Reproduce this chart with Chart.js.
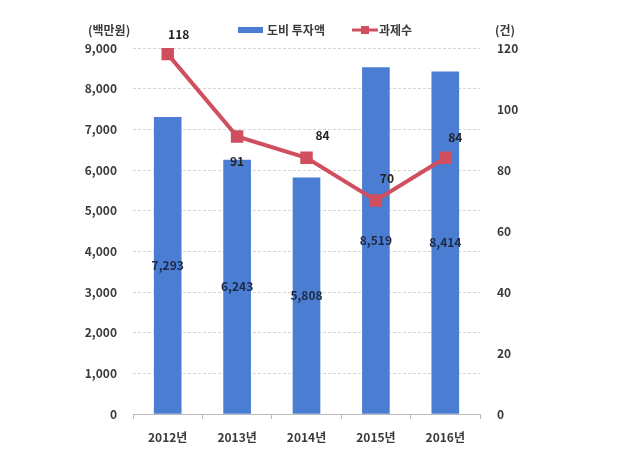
<!DOCTYPE html>
<html>
<head>
<meta charset="utf-8">
<script src="https://cdn.jsdelivr.net/npm/chart.js@4/dist/chart.umd.min.js"></script>
<style>
  html, body { margin: 0; padding: 0; background: #fff; }
  #wrap { width: 638px; height: 457px; }
</style>
</head>
<body>
<div id="wrap"><canvas id="chart" width="638" height="457"></canvas></div>
<script>
  // Data
  const years = ["2012년", "2013년", "2014년", "2015년", "2016년"];
  const investment = [7293, 6243, 5808, 8519, 8414]; // 도비 투자액 (백만원)
  const projects = [118, 91, 84, 70, 84];            // 과제수 (건)
  const leftTicks = [0, 1000, 2000, 3000, 4000, 5000, 6000, 7000, 8000, 9000];
  const rightTicks = [0, 20, 40, 60, 80, 100, 120];

  const FONT = "'Noto Sans CJK KR', 'Noto Sans', sans-serif";
  const BAR_COLOR = "#4b7dd2";
  const LINE_COLOR = "#d04f5f";
  const TEXT_COLOR = "#3a3a3a";

  // Where the count labels sit relative to each marker
  const lineLabelOffsets = [[11, -20], [0, 25], [16, -22], [11, -22], [10, -20]];

  const labelPlugin = {
    id: "labels",
    afterDatasetsDraw(chart) {
      const ctx = chart.ctx;
      ctx.save();
      ctx.textAlign = "center";
      ctx.textBaseline = "middle";
      ctx.font = "bold 12px " + FONT;

      // bar values, centered in each bar
      ctx.fillStyle = "#1e2a44";
      chart.getDatasetMeta(0).data.forEach((bar, i) => {
        ctx.fillText(investment[i].toLocaleString("en-US"), bar.x, (bar.y + bar.base) / 2);
      });

      // line values next to markers
      ctx.fillStyle = "#222";
      chart.getDatasetMeta(1).data.forEach((pt, i) => {
        const off = lineLabelOffsets[i];
        ctx.fillText(String(projects[i]), pt.x + off[0], pt.y + off[1]);
      });
      ctx.restore();
    },
    afterDraw(chart) {
      const ctx = chart.ctx;
      ctx.save();
      ctx.textBaseline = "middle";
      ctx.font = "bold 12px " + FONT;
      ctx.fillStyle = TEXT_COLOR;

      // axis unit titles
      ctx.textAlign = "left";
      ctx.fillText("(백만원)", 88, 30);
      ctx.fillText("(건)", 495, 30);

      // legend
      ctx.fillStyle = BAR_COLOR;
      ctx.fillRect(238, 27, 25, 6);
      ctx.fillStyle = TEXT_COLOR;
      ctx.fillText("도비 투자액", 267, 30);

      ctx.strokeStyle = LINE_COLOR;
      ctx.lineWidth = 3;
      ctx.beginPath();
      ctx.moveTo(352, 30);
      ctx.lineTo(378, 30);
      ctx.stroke();
      ctx.fillStyle = LINE_COLOR;
      ctx.fillRect(361, 26, 8, 8);
      ctx.fillStyle = TEXT_COLOR;
      ctx.fillText("과제수", 379, 30);
      ctx.restore();
    }
  };

  const ctx = document.getElementById("chart").getContext("2d");
  new Chart(ctx, {
    data: {
      labels: years,
      datasets: [
        {
          type: "bar",
          label: "도비 투자액",
          data: investment,
          backgroundColor: BAR_COLOR,
          barThickness: 27,
          yAxisID: "y",
          order: 1
        },
        {
          type: "line",
          label: "과제수",
          data: projects,
          borderColor: LINE_COLOR,
          backgroundColor: LINE_COLOR,
          borderWidth: 4,
          pointStyle: "rect",
          pointRadius: 6,
          pointHoverRadius: 6,
          tension: 0,
          yAxisID: "y1",
          order: 0
        }
      ]
    },
    options: {
      responsive: false,
      animation: false,
      layout: { padding: { top: 48, left: 0, right: 0, bottom: 0 } },
      plugins: {
        legend: { display: false },
        tooltip: { enabled: false }
      },
      scales: {
        x: {
          offset: true,
          grid: {
            drawOnChartArea: false,
            drawTicks: true,
            tickLength: 5,
            offset: true,
            color: "#bbb"
          },
          border: { color: "#bbb" },
          ticks: {
            padding: 11,
            color: TEXT_COLOR,
            font: { family: FONT, size: 12, weight: "bold" }
          },
          afterFit(scale) { scale.height = 43; }
        },
        y: {
          position: "left",
          min: 0,
          max: 9000,
          afterBuildTicks(scale) { scale.ticks = leftTicks.map(v => ({ value: v })); },
          grid: {
            color: "#d6d6d6",
            drawTicks: false
          },
          border: { display: false, dash: [3, 2] },
          ticks: {
            padding: 16,
            color: TEXT_COLOR,
            font: { family: FONT, size: 12, weight: "bold" },
            callback: v => v.toLocaleString("en-US")
          },
          afterFit(scale) { scale.width = 133; }
        },
        y1: {
          position: "right",
          min: 0,
          max: 120,
          afterBuildTicks(scale) { scale.ticks = rightTicks.map(v => ({ value: v })); },
          grid: { drawOnChartArea: false, drawTicks: false },
          border: { display: false },
          ticks: {
            padding: 17,
            color: TEXT_COLOR,
            font: { family: FONT, size: 12, weight: "bold" }
          },
          afterFit(scale) { scale.width = 158; }
        }
      }
    },
    plugins: [labelPlugin]
  });
</script>
</body>
</html>
